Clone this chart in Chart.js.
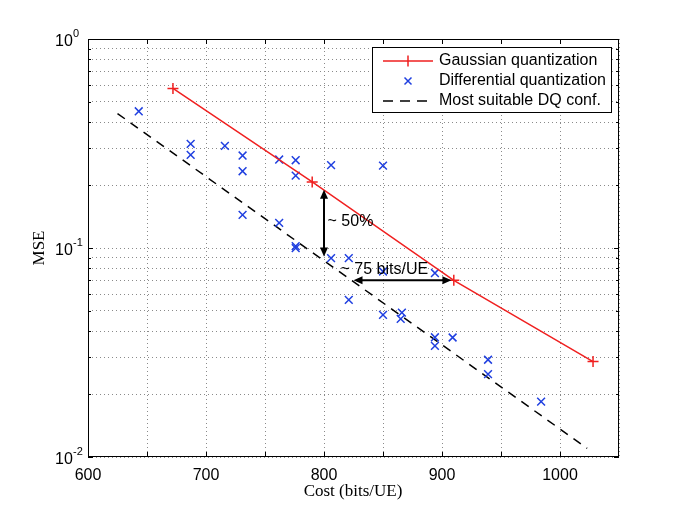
<!DOCTYPE html>
<html>
<head>
<meta charset="utf-8">
<script src="https://cdn.jsdelivr.net/npm/chart.js@4"></script>
<style>
  body { margin: 0; background: #fff; }
  canvas { display: block; }
</style>
</head>
<body>
<canvas id="myChart" width="685" height="514"></canvas>
<script>
// data
var costGauss = [672, 790, 910, 1028];
var mseGauss = [0.58, 0.207, 0.07, 0.0286];

var costDiff = [643, 687, 687, 716, 731, 731, 731, 762, 762, 776, 776, 776, 776, 806, 806, 821, 821, 850, 850, 850, 866, 865, 894, 894, 894, 909, 939, 939, 984];
var mseDiff = [0.451, 0.315, 0.279, 0.308, 0.277, 0.233, 0.144, 0.265, 0.132, 0.263, 0.222, 0.102, 0.0998, 0.249, 0.0895, 0.0895, 0.0565, 0.248, 0.0772, 0.0479, 0.0491, 0.0458, 0.0759, 0.0374, 0.034, 0.0373, 0.0292, 0.0249, 0.0184];

var costFit = [625, 1023];
var mseFit = [0.44, 0.011];

var xTicks = [600, 700, 800, 900, 1000];
var yTicks = [0.01, 0.1, 1];
var yExponents = ['-2', '-1', '0'];

// annotations
var gainArrowX = [800, 800];
var gainArrowY = [0.19, 0.091];
var gainLabel = '~ 50%';
var costArrowX = [825, 908];
var costArrowY = [0.07, 0.07];
var costLabel = '~ 75 bits/UE';

var red = '#f02020';
var blue = '#2040e0';
var sans = '"Liberation Sans", Arial, sans-serif';
var serif = '"Liberation Serif", "Times New Roman", serif';

function pts(xs, ys) {
  return xs.map(function(x, i) { return { x: x, y: ys[i] }; });
}

function arrowHead(c, x, y, dx, dy) {
  var len = 9, half = 4;
  var nx = -dy, ny = dx;
  c.beginPath();
  c.moveTo(x, y);
  c.lineTo(x - dx * len + nx * half, y - dy * len + ny * half);
  c.lineTo(x - dx * len - nx * half, y - dy * len - ny * half);
  c.closePath();
  c.fill();
}

function doubleArrow(c, x1, y1, x2, y2) {
  var d = Math.hypot(x2 - x1, y2 - y1);
  var dx = (x2 - x1) / d, dy = (y2 - y1) / d;
  c.beginPath();
  c.moveTo(x1 + dx * 6, y1 + dy * 6);
  c.lineTo(x2 - dx * 6, y2 - dy * 6);
  c.stroke();
  arrowHead(c, x2, y2, dx, dy);
  arrowHead(c, x1, y1, -dx, -dy);
}

var overlay = {
  id: 'overlay',
  afterDatasetsDraw: function(chart) {
    var c = chart.ctx, xs = chart.scales.x, ys = chart.scales.y;
    c.save();
    c.strokeStyle = '#000';
    c.fillStyle = '#000';
    c.lineWidth = 2;
    doubleArrow(c, xs.getPixelForValue(gainArrowX[0]), ys.getPixelForValue(gainArrowY[0]),
      xs.getPixelForValue(gainArrowX[1]), ys.getPixelForValue(gainArrowY[1]));
    doubleArrow(c, xs.getPixelForValue(costArrowX[0]), ys.getPixelForValue(costArrowY[0]),
      xs.getPixelForValue(costArrowX[1]), ys.getPixelForValue(costArrowY[1]));
    c.font = '16px ' + sans;
    c.textBaseline = 'middle';
    c.textAlign = 'left';
    c.fillText(gainLabel, xs.getPixelForValue(803), ys.getPixelForValue(0.134));
    c.fillText(costLabel, xs.getPixelForValue(814), ys.getPixelForValue(0.0787));
    c.restore();
  },
  afterDraw: function(chart) {
    var c = chart.ctx, a = chart.chartArea, xs = chart.scales.x, ys = chart.scales.y;
    c.save();
    // axes box
    c.strokeStyle = '#000';
    c.lineWidth = 1;
    c.strokeRect(a.left + 0.5, a.top + 0.5, a.right - a.left - 1, a.bottom - a.top - 1);

    // inward tick marks
    c.beginPath();
    for (var v = 650; v < 1050; v += 50) {
      var px = Math.round(xs.getPixelForValue(v)) + 0.5;
      c.moveTo(px, a.bottom); c.lineTo(px, a.bottom - 5);
      c.moveTo(px, a.top); c.lineTo(px, a.top + 5);
    }
    ys.ticks.forEach(function(t) {
      var py = Math.round(ys.getPixelForValue(t.value)) + 0.5;
      var len = yTicks.indexOf(t.value) >= 0 ? 5 : 3;
      c.moveTo(a.left, py); c.lineTo(a.left + len, py);
      c.moveTo(a.right, py); c.lineTo(a.right - len, py);
    });
    c.stroke();

    // y tick labels as 10^k
    c.fillStyle = '#000';
    c.textBaseline = 'alphabetic';
    c.textAlign = 'left';
    yTicks.forEach(function(v, i) {
      var py = ys.getPixelForValue(v);
      c.font = '16px ' + sans;
      c.fillText('10', 55, py + 7);
      c.font = '11px ' + sans;
      c.fillText(yExponents[i], 73, py - 2);
    });

    // axis titles
    c.font = '17px ' + serif;
    c.textAlign = 'center';
    c.textBaseline = 'middle';
    c.fillText('Cost (bits/UE)', 353, 492);
    c.save();
    c.translate(40, 248);
    c.rotate(-Math.PI / 2);
    c.fillText('MSE', 0, 0);
    c.restore();

    // legend
    var lx = 372.5, ly = 47.5, lw = 239, lh = 65;
    c.fillStyle = '#fff';
    c.fillRect(lx, ly, lw, lh);
    c.strokeStyle = '#000';
    c.strokeRect(lx, ly, lw, lh);
    var rows = [61, 81, 101];
    c.lineWidth = 1.5;
    c.strokeStyle = red;
    c.beginPath();
    c.moveTo(383, rows[0]); c.lineTo(433, rows[0]);
    c.moveTo(408, rows[0] - 5.5); c.lineTo(408, rows[0] + 5.5);
    c.moveTo(402.5, rows[0]); c.lineTo(413.5, rows[0]);
    c.stroke();
    c.strokeStyle = blue;
    c.beginPath();
    c.moveTo(404.5, rows[1] - 3.5); c.lineTo(411.5, rows[1] + 3.5);
    c.moveTo(404.5, rows[1] + 3.5); c.lineTo(411.5, rows[1] - 3.5);
    c.stroke();
    c.strokeStyle = '#000';
    c.setLineDash([10, 7]);
    c.beginPath();
    c.moveTo(383, rows[2]); c.lineTo(433, rows[2]);
    c.stroke();
    c.setLineDash([]);
    c.fillStyle = '#000';
    c.font = '16px ' + sans;
    c.textAlign = 'left';
    c.fillText('Gaussian quantization', 439, rows[0]);
    c.fillText('Differential quantization', 439, rows[1]);
    c.fillText('Most suitable DQ conf.', 439, rows[2]);
    c.restore();
  }
};

var ctx = document.getElementById('myChart');

new Chart(ctx, {
  type: 'scatter',
  data: {
    datasets: [{
      label: 'Gaussian quantization',
      data: pts(costGauss, mseGauss),
      showLine: true,
      borderColor: red,
      borderWidth: 1.5,
      pointStyle: 'cross',
      pointRadius: 5.5,
      pointBorderColor: red,
      pointBorderWidth: 1.5
    }, {
      label: 'Differential quantization',
      data: pts(costDiff, mseDiff),
      showLine: false,
      pointStyle: 'crossRot',
      pointRadius: 5.5,
      pointBorderColor: blue,
      pointBorderWidth: 1.5
    }, {
      label: 'Most suitable DQ conf.',
      data: pts(costFit, mseFit),
      showLine: true,
      borderColor: '#000',
      borderWidth: 1.5,
      borderDash: [9, 7],
      pointRadius: 0
    }]
  },
  options: {
    responsive: false,
    animation: false,
    devicePixelRatio: 1,
    layout: { padding: { left: 0, right: 66, top: 39, bottom: 0 } },
    plugins: {
      legend: { display: false },
      tooltip: { enabled: false }
    },
    scales: {
      x: {
        type: 'linear',
        min: 600,
        max: 1050,
        ticks: {
          stepSize: 50,
          autoSkip: false,
          maxRotation: 0,
          padding: 9,
          color: '#000',
          font: { family: sans, size: 16 },
          callback: function(v) { return xTicks.indexOf(v) >= 0 ? String(v) : ''; }
        },
        grid: { color: '#8a8a8a', lineWidth: 1, drawTicks: false },
        border: { display: false, dash: [1, 3] },
        afterFit: function(scale) { scale.height = 57; }
      },
      y: {
        type: 'logarithmic',
        min: 0.01,
        max: 1,
        ticks: { display: false },
        grid: { color: '#8a8a8a', lineWidth: 1, drawTicks: false },
        border: { display: false, dash: [1, 3] },
        afterBuildTicks: function(scale) {
          var t = [];
          [0.01, 0.1].forEach(function(d) {
            for (var k = 1; k < 10; k++) t.push({ value: +(d * k).toPrecision(3) });
          });
          t.push({ value: 1 });
          scale.ticks = t;
        },
        afterFit: function(scale) { scale.width = 88; }
      }
    }
  },
  plugins: [overlay]
});
</script>
</body>
</html>
